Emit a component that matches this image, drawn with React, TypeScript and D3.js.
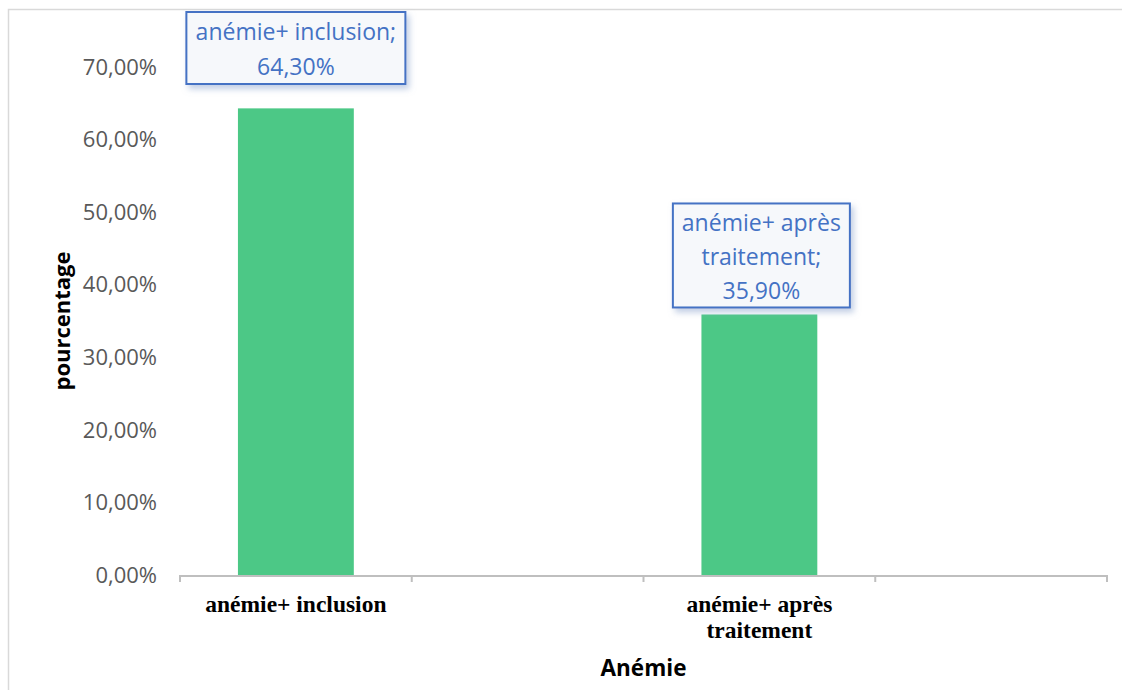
import React from "react";
import * as d3 from "d3";

const categories = ["anémie+ inclusion", "", "anémie+ après traitement", ""];
const values: (number | null)[] = [0.643, null, 0.359, null];
const yTicks = [0, 0.1, 0.2, 0.3, 0.4, 0.5, 0.6, 0.7];
const xLabelLines = [["anémie+ inclusion"], [], ["anémie+ après", "traitement"], []];
const dataLabelLines = [["anémie+ inclusion;", "64,30%"], [], ["anémie+ après", "traitement;", "35,90%"], []];
const yTitle = "pourcentage";
const xTitle = "Anémie";

const W = 1122;
const H = 690;
const plot = { left: 180, right: 1107, top: 67, bottom: 575 };
const sans = "'Open Sans', 'Noto Sans', sans-serif";

export default function App() {
  const x = d3.scaleBand<number>().domain(categories.map((_, i) => i)).range([plot.left, plot.right]).paddingInner(0).paddingOuter(0);
  const y = d3.scaleLinear().domain([0, 0.7]).range([plot.bottom, plot.top]);
  const fmt = (v: number) => (v * 100).toFixed(2).replace(".", ",") + "%";
  const barW = x.bandwidth() * 0.5;
  const boxes = [
    { w: 219, lh: 35, top: 12, dx: 0 },
    null,
    { w: 177, lh: 34, top: null, dx: 2 },
    null,
  ];
  const tickXs = [...categories.map((_, i) => x(i)!), plot.right];

  return (
    <svg width={W} height={H} style={{ position: "absolute", left: 0, top: 0, background: "#fff" }}>
      <defs>
        <filter id="sh" x="-20%" y="-20%" width="140%" height="150%">
          <feDropShadow dx="3" dy="4" stdDeviation="3" floodColor="#8fa6cf" floodOpacity="0.55" />
        </filter>
      </defs>
      <rect x={8.5} y={9.5} width={1130} height={700} fill="#fff" stroke="#d9d9d9" strokeWidth={1.5} />
      {yTicks.map((t) => (
        <text key={t} x={157} y={y(t)} dy="0.35em" textAnchor="end" fontFamily={sans} fontSize={22} fill="#595959">
          {fmt(t)}
        </text>
      ))}
      <text transform={`translate(62,${(plot.top + plot.bottom) / 2}) rotate(-90)`} textAnchor="middle" dy="0.35em" fontFamily={sans} fontWeight="bold" fontSize={22} fill="#000">
        {yTitle}
      </text>
      {values.map((v, i) =>
        v == null ? null : (
          <rect key={i} x={x(i)! + (x.bandwidth() - barW) / 2} y={y(v)} width={barW} height={y(0) - y(v)} fill="#4cc886" />
        )
      )}
      <line x1={plot.left} x2={plot.right} y1={plot.bottom + 1} y2={plot.bottom + 1} stroke="#bfbfbf" strokeWidth={2} />
      {tickXs.map((tx, i) => (
        <line key={i} x1={tx} x2={tx} y1={plot.bottom} y2={plot.bottom + 7} stroke="#bfbfbf" strokeWidth={2} />
      ))}
      {xLabelLines.map((lines, i) =>
        lines.map((ln, j) => (
          <text key={i + "-" + j} x={x(i)! + x.bandwidth() / 2} y={612 + j * 26} textAnchor="middle" fontFamily="'Liberation Serif', 'Times New Roman', serif" fontWeight="bold" fontSize={23.5} fill="#000">
            {ln}
          </text>
        ))
      )}
      <text x={(plot.left + plot.right) / 2} y={676} textAnchor="middle" fontFamily={sans} fontWeight="bold" fontSize={22.5} fill="#000">
        {xTitle}
      </text>
      {values.map((v, i) => {
        const b = boxes[i];
        if (v == null || !b) return null;
        const lines = dataLabelLines[i];
        const h = lines.length * b.lh + 2;
        const cx = x(i)! + x.bandwidth() / 2 + b.dx;
        const top = b.top != null ? b.top : y(v) - 7 - h;
        return (
          <g key={i}>
            <rect x={cx - b.w / 2} y={top} width={b.w} height={h} fill="#f6f8fb" stroke="#4472c4" strokeWidth={2} filter="url(#sh)" />
            {lines.map((ln, j) => (
              <text key={j} x={cx} y={top + 2.5 + b.lh * (j + 0.5)} dy="0.35em" textAnchor="middle" fontFamily={sans} fontSize={23} fill="#4472c4">
                {ln}
              </text>
            ))}
          </g>
        );
      })}
    </svg>
  );
}
